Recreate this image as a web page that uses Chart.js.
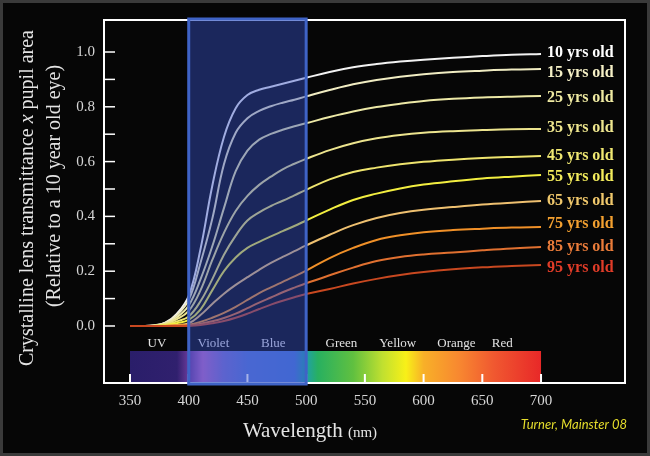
<!DOCTYPE html>
<html>
<head>
<meta charset="utf-8">
<script src="https://cdn.jsdelivr.net/npm/chart.js@4.4.0/dist/chart.umd.min.js"></script>
<style>
  html, body { margin: 0; padding: 0; background: #3a3a3a; }
  #wrap { width: 650px; height: 456px; }
</style>
</head>
<body>
<div id="wrap"><canvas id="chart" width="650" height="456"></canvas></div>
<script>
// wavelength samples (nm)
const wavelengths = [350, 360, 370, 380, 390, 400, 410, 420, 430, 440, 450, 460, 470, 480, 490, 500, 520, 540, 560, 580, 600, 625, 650, 675, 700];

// transmittance x pupil area, relative to a 10 year old eye
const age10 = [0, 0, 0.002, 0.012, 0.045, 0.11, 0.28, 0.51, 0.69, 0.795, 0.843, 0.862, 0.873, 0.884, 0.895, 0.906, 0.927, 0.944, 0.956, 0.965, 0.972, 0.979, 0.985, 0.99, 0.993];
const age15 = [0, 0, 0.002, 0.011, 0.04, 0.095, 0.23, 0.39, 0.59, 0.705, 0.758, 0.785, 0.802, 0.815, 0.826, 0.838, 0.861, 0.882, 0.898, 0.91, 0.919, 0.927, 0.932, 0.936, 0.938];
const age25 = [0, 0, 0.001, 0.009, 0.032, 0.075, 0.17, 0.29, 0.43, 0.565, 0.64, 0.68, 0.701, 0.716, 0.729, 0.74, 0.763, 0.783, 0.799, 0.811, 0.821, 0.829, 0.834, 0.837, 0.839];
const age35 = [0, 0, 0.001, 0.007, 0.025, 0.055, 0.13, 0.24, 0.34, 0.42, 0.475, 0.515, 0.545, 0.572, 0.592, 0.61, 0.642, 0.667, 0.685, 0.697, 0.705, 0.711, 0.715, 0.718, 0.719];
const age45 = [0, 0, 0, 0.005, 0.017, 0.035, 0.09, 0.17, 0.26, 0.33, 0.385, 0.415, 0.438, 0.457, 0.477, 0.497, 0.535, 0.562, 0.578, 0.59, 0.599, 0.607, 0.613, 0.617, 0.62];
const age55 = [0, 0, 0, 0.003, 0.01, 0.022, 0.06, 0.13, 0.20, 0.25, 0.285, 0.307, 0.327, 0.346, 0.365, 0.385, 0.425, 0.46, 0.483, 0.502, 0.516, 0.528, 0.538, 0.545, 0.551];
const age65 = [0, 0, 0, 0.001, 0.004, 0.01, 0.04, 0.08, 0.118, 0.15, 0.178, 0.205, 0.23, 0.252, 0.273, 0.294, 0.333, 0.368, 0.394, 0.412, 0.424, 0.434, 0.443, 0.45, 0.456];
const age75 = [0, 0, 0, 0, 0.002, 0.005, 0.015, 0.03, 0.048, 0.07, 0.095, 0.12, 0.141, 0.161, 0.181, 0.202, 0.248, 0.285, 0.314, 0.331, 0.342, 0.35, 0.355, 0.359, 0.361];
const age85 = [0, 0, 0, 0, 0.001, 0.002, 0.008, 0.017, 0.029, 0.045, 0.065, 0.085, 0.104, 0.123, 0.14, 0.156, 0.185, 0.213, 0.237, 0.252, 0.261, 0.268, 0.276, 0.283, 0.288];
const age95 = [0, 0, 0, 0, 0, 0.001, 0.004, 0.01, 0.018, 0.03, 0.045, 0.062, 0.078, 0.092, 0.105, 0.117, 0.135, 0.155, 0.172, 0.186, 0.197, 0.207, 0.214, 0.219, 0.223];

const seriesNames = ["10 yrs old", "15 yrs old", "25 yrs old", "35 yrs old", "45 yrs old", "55 yrs old", "65 yrs old", "75 yrs old", "85 yrs old", "95 yrs old"];
const seriesValues = [age10, age15, age25, age35, age45, age55, age65, age75, age85, age95];
const lineColors = ["#f2f2f2", "#f0ecc2", "#ece8a6", "#ece48e", "#eee46e", "#f2ee40", "#eec070", "#f09028", "#e07030", "#c84820"];
const labelColors = ["#ffffff", "#f5f0c6", "#efeaa2", "#eee68e", "#f0e872", "#f3ec5c", "#f0c86c", "#f3a030", "#ea7c3a", "#e03c28"];
const labelNudge = [-1, 4, 2, -1, 0, 2, 0, -3, 0, 3];

const xTicks = [350, 400, 450, 500, 550, 600, 650, 700];
const yTicks = [0, 0.2, 0.4, 0.6, 0.8, 1.0];
const yTickMarks = [0, 0.1, 0.2, 0.3, 0.4, 0.5, 0.6, 0.7, 0.8, 0.9, 1.0];

// spectrum strip and highlighted band
const bandNames = ["UV", "Violet", "Blue", "Green", "Yellow", "Orange", "Red"];
const bandCenters = [373, 421, 472, 530, 578, 628, 667];
const spectrumStops = [350, 390, 400, 412, 430, 450, 490, 500, 510, 540, 565, 585, 600, 630, 660, 700];
const spectrumColors = ["#2a1e6a", "#30206e", "#6a3a9a", "#b868c8", "#7a70d0", "#5878d8", "#4a78d8", "#20a0a8", "#28b060", "#60c040", "#c0e030", "#f8f018", "#f8b028", "#f88830", "#f05830", "#e82828"];
const highlightFrom = 400;
const highlightTo = 500;

const serif = '"Liberation Serif", "Times New Roman", serif';

const lensDecor = {
  id: "lensDecor",
  beforeDraw(chart) {
    const c = chart.ctx;
    c.save();
    c.fillStyle = "#3a3a3a";
    c.fillRect(0, 0, chart.width, chart.height);
    c.fillStyle = "#060606";
    c.fillRect(3, 3, chart.width - 6, chart.height - 6);
    c.restore();
  },
  beforeDatasetsDraw(chart) {
    const c = chart.ctx, a = chart.chartArea, x = chart.scales.x, y = chart.scales.y;
    c.save();

    /* ===== spectrum strip ===== */
    const first = spectrumStops[0], last = spectrumStops[spectrumStops.length - 1];
    const s0 = x.getPixelForValue(first), s1 = x.getPixelForValue(last);
    const g = c.createLinearGradient(s0, 0, s1, 0);
    spectrumStops.forEach((nm, i) => g.addColorStop((nm - first) / (last - first), spectrumColors[i]));
    c.fillStyle = g;
    c.fillRect(s0, a.bottom - 32, s1 - s0, 32);

    c.strokeStyle = "#ffffff";
    c.lineWidth = 2;
    xTicks.forEach(v => {
      const px = x.getPixelForValue(v);
      c.beginPath();
      c.moveTo(px, a.bottom);
      c.lineTo(px, a.bottom - 9);
      c.stroke();
    });

    /* ===== band names ===== */
    c.font = "13px " + serif;
    c.fillStyle = "#e2e2e2";
    c.textAlign = "center";
    c.textBaseline = "middle";
    bandNames.forEach((n, i) => c.fillText(n, x.getPixelForValue(bandCenters[i]), a.bottom - 39));

    /* ===== y tick marks (inside) ===== */
    c.lineWidth = 1.5;
    yTickMarks.forEach(v => {
      const py = y.getPixelForValue(v);
      c.beginPath();
      c.moveTo(a.left, py);
      c.lineTo(a.left + 11, py);
      c.stroke();
    });

    /* ===== frame ===== */
    c.lineWidth = 2;
    c.strokeRect(a.left, a.top, a.right - a.left, a.bottom - a.top);
    c.restore();
  },
  afterDatasetsDraw(chart) {
    const c = chart.ctx, a = chart.chartArea, x = chart.scales.x, y = chart.scales.y;
    const dpr = chart.currentDevicePixelRatio;
    c.save();

    /* ===== violet / blue highlight ===== */
    const b0 = x.getPixelForValue(highlightFrom), b1 = x.getPixelForValue(highlightTo);
    c.fillStyle = "rgba(55, 83, 202, 0.44)";
    c.fillRect(b0, a.top - 1, b1 - b0, a.bottom - a.top + 2);
    c.strokeStyle = "#3f63c6";
    c.lineWidth = 3;
    c.strokeRect(b0, a.top - 1, b1 - b0, a.bottom - a.top + 2);

    /* ===== line labels ===== */
    c.font = "bold 16px " + serif;
    c.textAlign = "left";
    c.textBaseline = "middle";
    seriesValues.forEach((vals, i) => {
      c.fillStyle = labelColors[i];
      c.fillText(seriesNames[i], x.getPixelForValue(wavelengths[wavelengths.length - 1]) + 6,
        y.getPixelForValue(vals[vals.length - 1]) + labelNudge[i]);
    });

    /* ===== y title ===== */
    c.fillStyle = "#e4e4e4";
    const p1 = "Crystalline lens transmittance ", p2 = "x", p3 = " pupil area";
    c.font = "20px " + serif;
    const w1 = c.measureText(p1).width, w3 = c.measureText(p3).width;
    c.font = "italic 20px " + serif;
    const w2 = c.measureText(p2).width;
    c.translate(28, 198);
    c.rotate(-Math.PI / 2);
    const start = -(w1 + w2 + w3) / 2;
    c.textAlign = "left";
    c.font = "20px " + serif;
    c.fillText(p1, start, 0);
    c.font = "italic 20px " + serif;
    c.fillText(p2, start + w1, 0);
    c.font = "20px " + serif;
    c.fillText(p3, start + w1 + w2, 0);
    c.setTransform(dpr, 0, 0, dpr, 0, 0);
    c.translate(55, 186);
    c.rotate(-Math.PI / 2);
    c.textAlign = "center";
    c.fillText("(Relative to a 10 year old eye)", 0, 0);
    c.setTransform(dpr, 0, 0, dpr, 0, 0);

    /* ===== x title ===== */
    c.textAlign = "left";
    c.textBaseline = "alphabetic";
    c.font = "21px " + serif;
    const t1 = "Wavelength ";
    const tw1 = c.measureText(t1).width;
    c.font = "15px " + serif;
    const tw2 = c.measureText("(nm)").width;
    const tx = 310 - (tw1 + tw2) / 2;
    c.font = "21px " + serif;
    c.fillText(t1, tx, 437);
    c.font = "15px " + serif;
    c.fillText("(nm)", tx + tw1, 437);

    /* ===== credit ===== */
    c.fillStyle = "#e6de2c";
    c.font = "italic 13px Lato, sans-serif";
    c.textAlign = "right";
    c.textBaseline = "middle";
    c.fillText("Turner, Mainster 08", 627, 425);
    c.restore();
  }
};

new Chart(document.getElementById("chart"), {
  type: "line",
  data: {
    datasets: seriesValues.map((vals, i) => ({
      label: seriesNames[i],
      data: wavelengths.map((w, j) => ({ x: w, y: vals[j] })),
      borderColor: lineColors[i],
      borderWidth: 2,
      pointRadius: 0,
      fill: false,
      tension: 0.4,
      order: seriesValues.length - 1 - i
    }))
  },
  options: {
    responsive: false,
    animation: false,
    layout: { padding: { left: 0, top: 20, right: 25, bottom: 0 } },
    plugins: { legend: { display: false }, tooltip: { enabled: false } },
    scales: {
      x: {
        type: "linear",
        min: 327.86,
        max: 771.5,
        grid: { display: false, drawTicks: false },
        border: { display: false },
        afterBuildTicks: s => { s.ticks = xTicks.map(v => ({ value: v })); },
        afterFit: s => { s.height = 73; },
        ticks: {
          padding: 9,
          color: "#d6d6d6",
          font: { family: serif, size: 15 },
          callback: v => String(v),
          maxRotation: 0,
          autoSkip: false
        }
      },
      y: {
        min: -0.2081,
        max: 1.1168,
        grid: { display: false, drawTicks: false },
        border: { display: false },
        afterBuildTicks: s => { s.ticks = yTicks.map(v => ({ value: v })); },
        afterFit: s => { s.width = 104; },
        ticks: {
          padding: 9,
          color: "#d6d6d6",
          font: { family: serif, size: 15 },
          callback: v => v.toFixed(1)
        }
      }
    }
  },
  plugins: [lensDecor]
});
</script>
</body>
</html>
